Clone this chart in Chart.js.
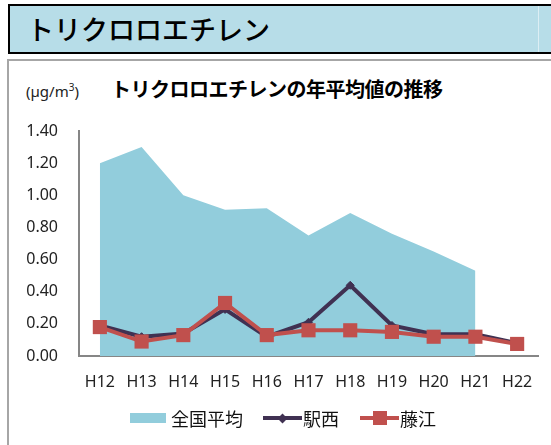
<!DOCTYPE html>
<html lang="ja">
<head>
<meta charset="utf-8">
<script src="https://cdn.jsdelivr.net/npm/chart.js@4/dist/chart.umd.min.js"></script>
<style>
  html, body { margin: 0; padding: 0; background: #fff; }
  body { width: 551px; height: 445px; position: relative; overflow: hidden;
    font-family: "Noto Sans CJK JP", "Noto Sans", sans-serif; color: #222; }
  .hdr { position: absolute; left: 8px; top: 4px; width: 560px; height: 46px;
    background: #B7DDE8; border: 2px solid #000; }
  .hdr .sep { position: absolute; left: 528px; top: 0; bottom: 0; width: 1px; background: #DCEEF4; }
  .hdr .txt { position: absolute; left: 17px; top: 3px; font-size: 27px; font-weight: 500; color: #000; }
  .panel { position: absolute; left: 7px; top: 59px; width: 560px; height: 400px;
    border-left: 2px solid #A6A6A6; border-top: 2px solid #A6A6A6; }
  .unit { position: absolute; left: 26px; top: 80px; font-size: 15px; font-family: "Noto Sans", sans-serif; color: #222; }
  .unit sup { font-size: 10px; }
  .ctitle { position: absolute; left: 111px; top: 74px; font-size: 20px; font-weight: 700; color: #000; letter-spacing: -0.5px; }
  #c { position: absolute; left: 0; top: 0; }
  .lg { position: absolute; top: 405px; height: 26px; display: flex; align-items: center; font-size: 18px; color: #111; }
  .lg .box { width: 36px; height: 10px; background: #92CDDC; margin-right: 5px; }
  .lg .ln { position: relative; width: 39px; height: 4px; margin-right: 1px; }
  .lg .mk { position: absolute; left: 50%; top: 50%; }
</style>
</head>
<body>
<div class="hdr"><div class="sep"></div><div class="txt">トリクロロエチレン</div></div>
<div class="panel"></div>
<div class="unit">(µg/m<sup>3</sup>)</div>
<div class="ctitle">トリクロロエチレンの年平均値の推移</div>
<canvas id="c" width="551" height="445"></canvas>
<div class="lg" style="left:130px"><div class="box"></div>全国平均</div>
<div class="lg" style="left:263px"><div class="ln" style="background:#403152"><div class="mk" style="width:7px;height:7px;margin:-3.5px 0 0 -3.5px;background:#403152;transform:rotate(45deg)"></div></div>駅西</div>
<div class="lg" style="left:360px"><div class="ln" style="background:#C0504D"><div class="mk" style="width:14px;height:14px;margin:-7px 0 0 -7px;background:#C0504D"></div></div>藤江</div>
<script>
const years = ['H12', 'H13', 'H14', 'H15', 'H16', 'H17', 'H18', 'H19', 'H20', 'H21', 'H22'];
const national = [1.20, 1.30, 1.00, 0.91, 0.92, 0.75, 0.89, 0.76, 0.65, 0.53, null];
const ekinishi = [0.19, 0.12, 0.14, 0.29, 0.12, 0.21, 0.44, 0.19, 0.135, 0.135, 0.08];
const fujie = [0.18, 0.09, 0.13, 0.33, 0.13, 0.16, 0.16, 0.15, 0.12, 0.12, 0.075];
const yTicks = [0, 0.2, 0.4, 0.6, 0.8, 1.0, 1.2, 1.4];

Chart.defaults.animation = false;

new Chart(document.getElementById('c'), {
  type: 'line',
  data: {
    labels: years,
    datasets: [
      { label: '全国平均', data: national, order: 3, fill: 'origin',
        backgroundColor: '#92CDDC', borderWidth: 0, pointRadius: 0, tension: 0 },
      { label: '駅西', data: ekinishi, order: 2, borderColor: '#403152', borderWidth: 4,
        pointStyle: 'rectRot', pointRadius: 4, pointBackgroundColor: '#403152',
        pointBorderColor: '#403152', pointBorderWidth: 1 },
      { label: '藤江', data: fujie, order: 1, borderColor: '#C0504D', borderWidth: 4,
        pointStyle: 'rect', pointRadius: 10, pointBackgroundColor: '#C0504D',
        pointBorderColor: '#C0504D', pointBorderWidth: 0 },
    ],
  },
  options: {
    responsive: false,
    layout: { padding: { left: 0, top: 131, right: 13, bottom: 49 } },
    plugins: { legend: { display: false }, tooltip: { enabled: false } },
    scales: {
      x: {
        offset: true,
        grid: { display: false, drawTicks: false },
        border: { color: '#868686', width: 2 },
        ticks: { color: '#222', font: { family: 'Noto Sans', size: 16 }, padding: 17, maxRotation: 0 },
        afterFit: (a) => { a.height = 40; },
      },
      y: {
        min: 0, max: 1.4,
        afterBuildTicks: (a) => { a.ticks = yTicks.map((v) => ({ value: v })); },
        grid: { display: false, drawTicks: false },
        border: { color: '#868686', width: 2 },
        ticks: { color: '#222', font: { family: 'Noto Sans', size: 16 }, padding: 21,
          callback: (v) => Number(v).toFixed(2) },
        afterFit: (a) => { a.width = 79; },
      },
    },
  },
});
</script>
</body>
</html>
